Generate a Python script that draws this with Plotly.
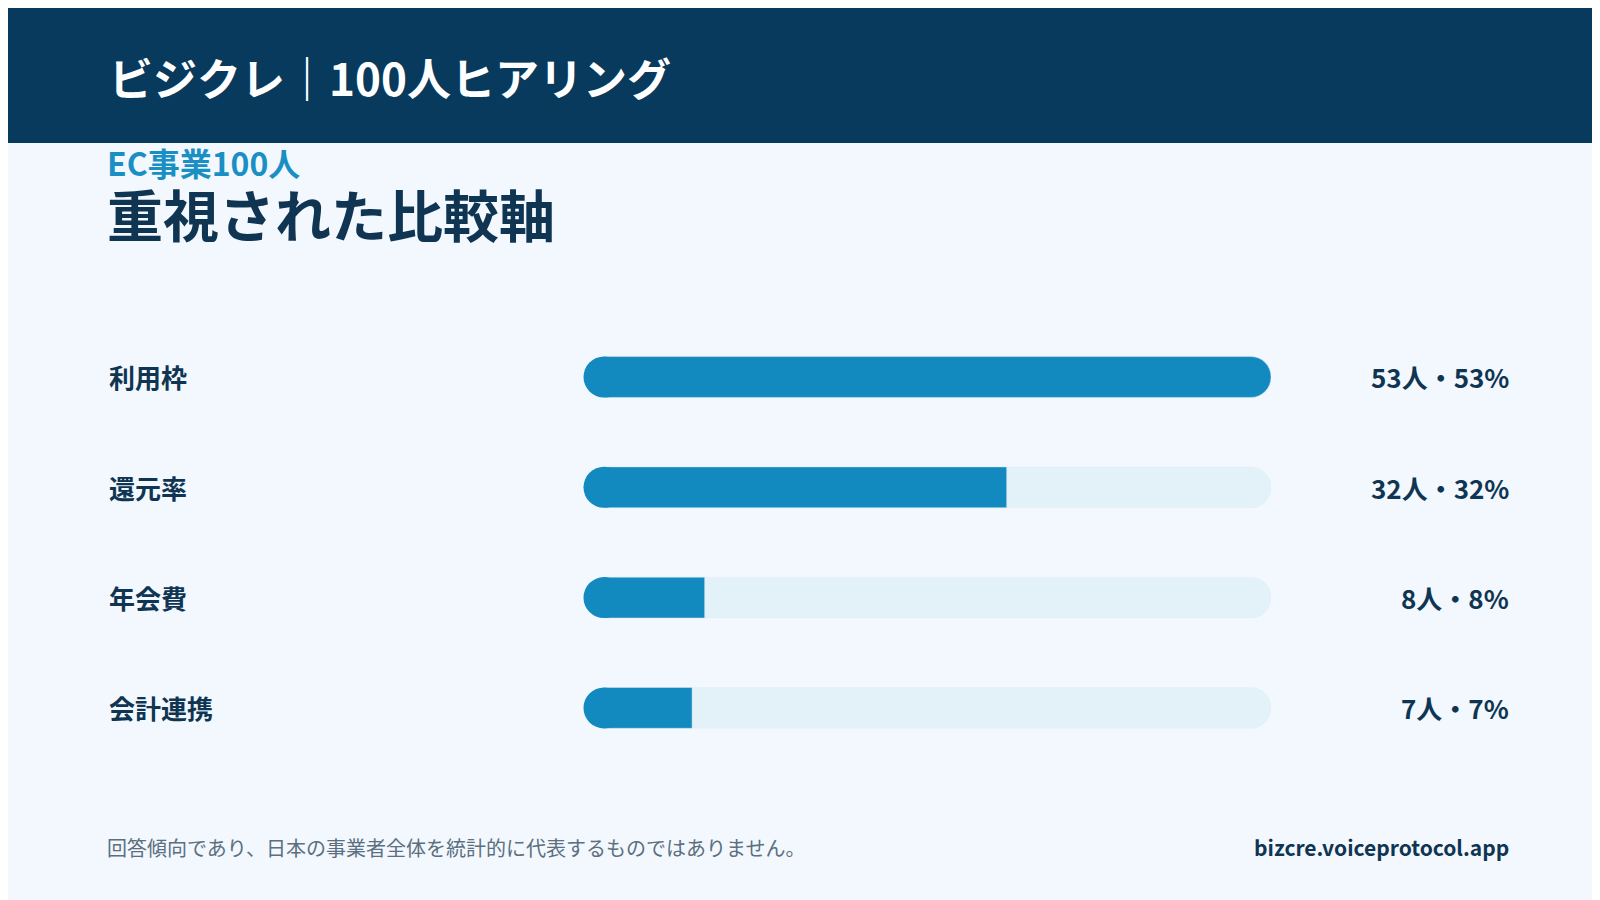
import plotly.graph_objects as go

categories = ["利用枠", "還元率", "年会費", "会計連携"]
counts = [53, 32, 8, 7]
percents = [53, 32, 8, 7]
value_labels = [f"{c}人・{p}%" for c, p in zip(counts, percents)]
scale_max = 53

NAVY = "#073a5c"
TEXT = "#0f3553"
BAR = "#1289bf"
TRACK = "#e3f1f9"
FONT = "Noto Sans CJK JP"

ys = list(range(len(categories)))

fig = go.Figure()
# background track
fig.add_trace(go.Bar(x=[scale_max] * len(ys), y=ys, orientation="h", width=0.37,
                     marker=dict(color=TRACK, cornerradius=20), hoverinfo="skip"))
fig.add_trace(go.Bar(x=counts, y=ys, orientation="h", width=0.37,
                     marker=dict(color=BAR, cornerradius=20), hoverinfo="skip"))
# rounded base
fig.add_trace(go.Scatter(x=[0] * len(ys), y=ys, mode="markers", cliponaxis=False,
                         marker=dict(size=41, color=BAR, line=dict(width=0)),
                         hoverinfo="skip"))

ann = []
def px(y):
    return 1 - y / 900

def note(x, y, text, anchor, **font):
    return dict(x=x, y=y, xref="paper", yref="paper", text=text, showarrow=False,
                xanchor=anchor, yanchor="middle", font=dict(family=FONT, **font))

for i, (cat, lab) in enumerate(zip(categories, value_labels)):
    yy = px(369 + 110.3 * i)
    ann.append(note(99 / 1600, yy, cat, "left", size=26, color=TEXT, weight="bold"))
    ann.append(note(1503 / 1600, yy, lab, "right", size=26, color=TEXT, weight="bold"))

ann += [
    note(99 / 1600, px(69), "ビジクレ｜100人ヒアリング", "left",
         size=44, color="white", weight="bold"),
    note(97 / 1600, px(154), "EC事業100人", "left", size=32, color="#1a8fc4", weight="bold"),
    note(97 / 1600, px(205), "重視された比較軸", "left", size=56, color=TEXT, weight="bold"),
    note(97 / 1600, px(839),
         "回答傾向であり、日本の事業者全体を統計的に代表するものではありません。",
         "left", size=20, color="#5b6f80"),
    note(1503 / 1600, px(839), "bizcre.voiceprotocol.app", "right",
         size=21, color=TEXT, weight="bold"),
]

fig.update_layout(
    width=1600, height=900, margin=dict(l=0, r=0, t=0, b=0),
    paper_bgcolor="#f2f8fd", plot_bgcolor="rgba(0,0,0,0)",
    barmode="overlay", showlegend=False,
    xaxis=dict(domain=[596 / 1600, 1263 / 1600], range=[0, scale_max],
               visible=False, fixedrange=True),
    yaxis=dict(domain=[0, 1], range=[(900 - 369) / 110.3, -369 / 110.3],
               visible=False, fixedrange=True),
    shapes=[dict(type="rect", xref="paper", yref="paper", x0=0, x1=1,
                 y0=px(135), y1=1, fillcolor=NAVY, line=dict(width=0), layer="below")],
    annotations=ann,
)

fig.write_html("out.html")
